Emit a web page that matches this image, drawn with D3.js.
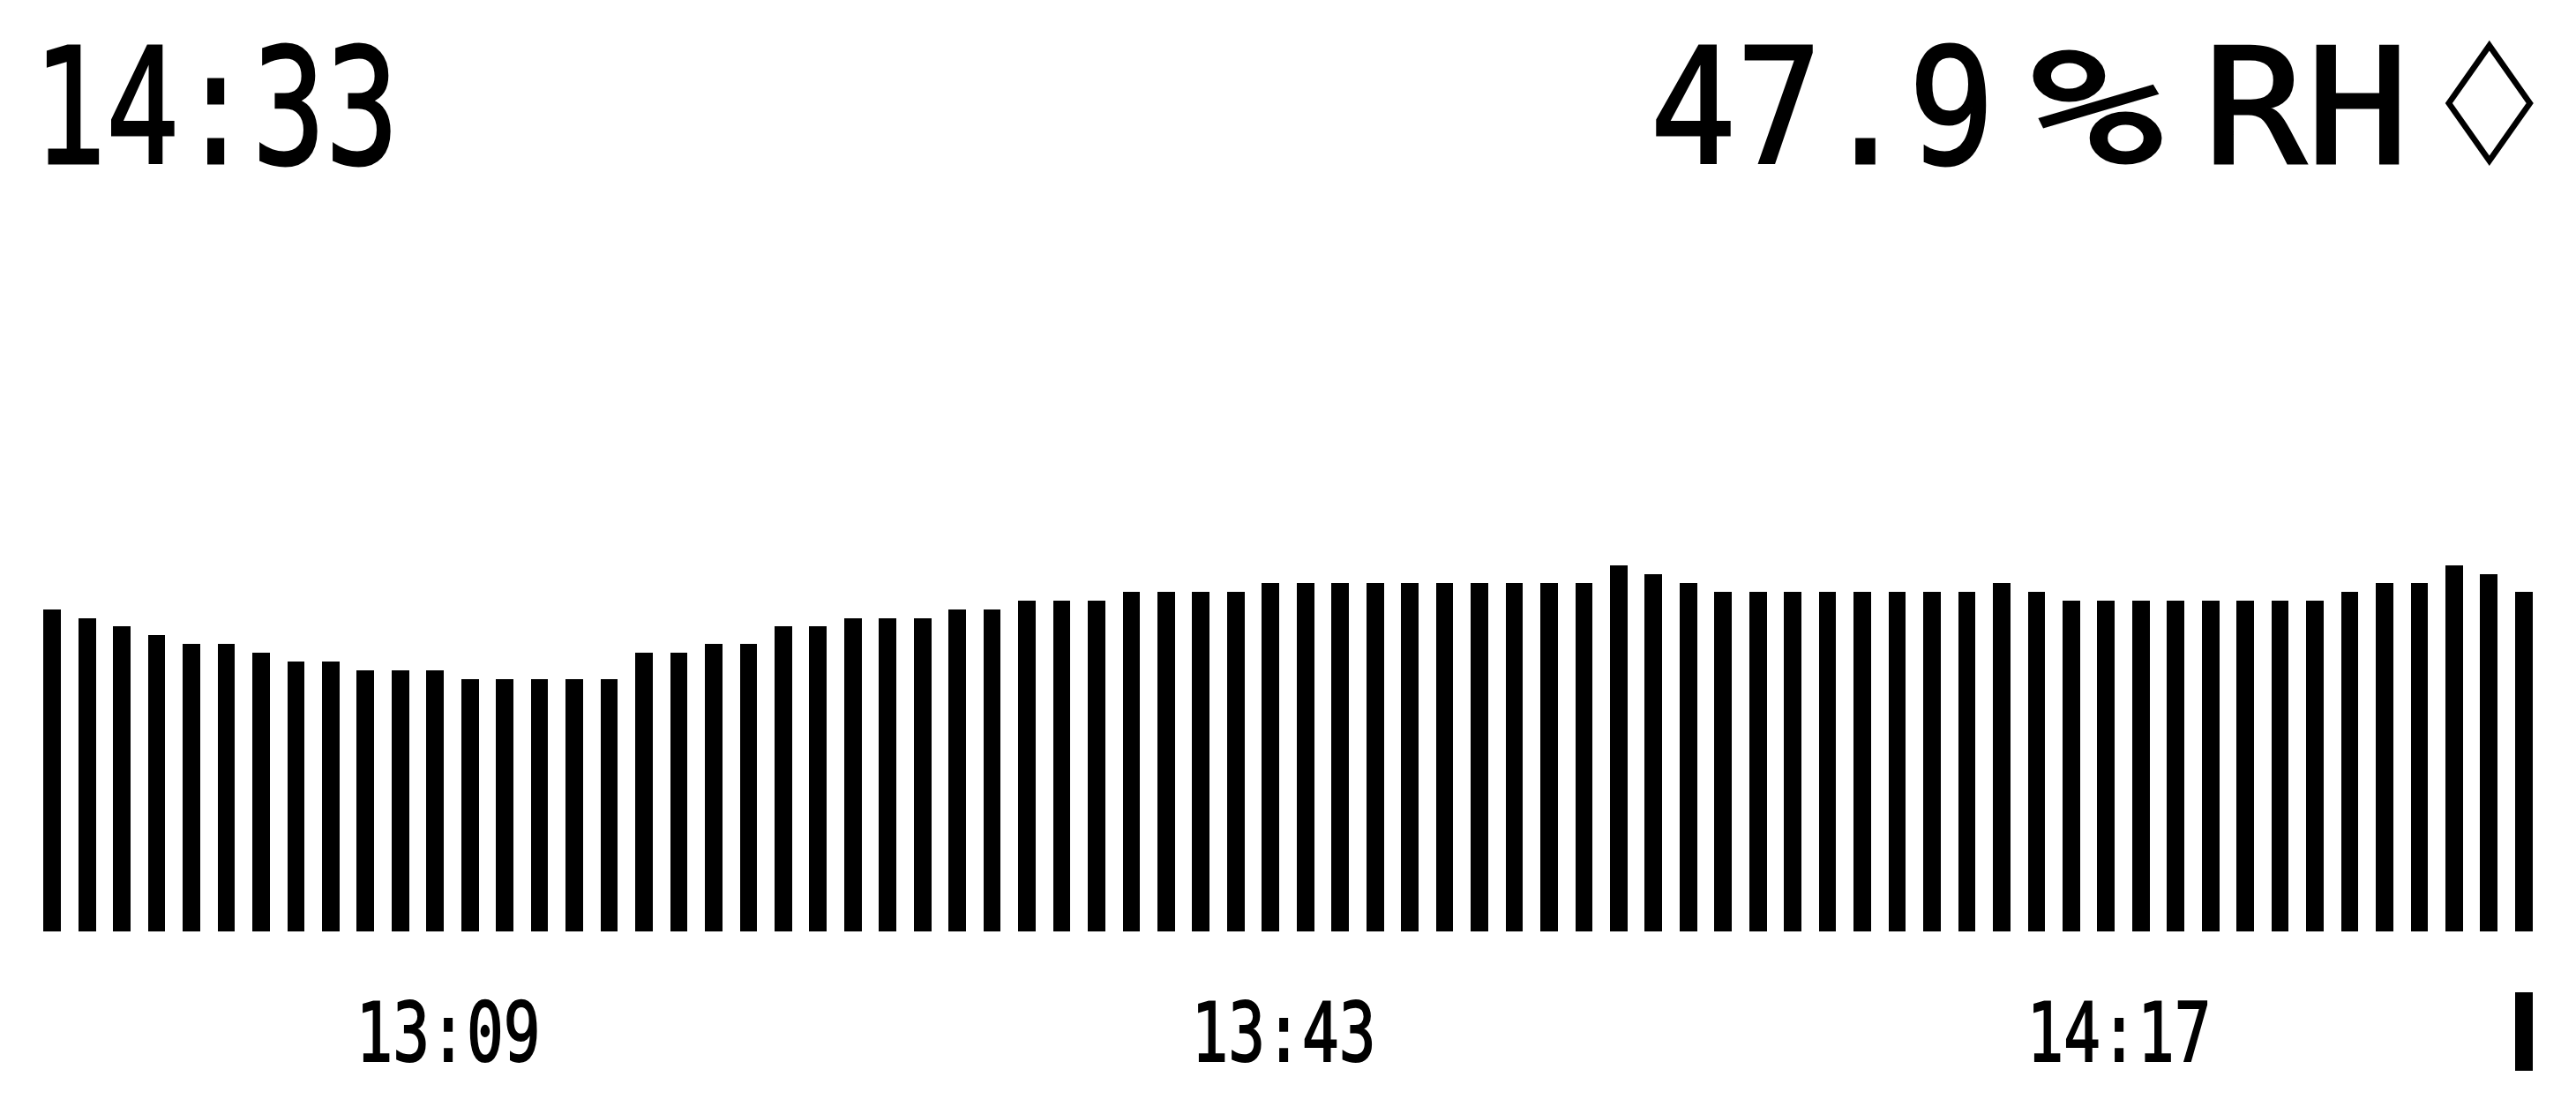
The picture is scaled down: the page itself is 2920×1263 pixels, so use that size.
<!DOCTYPE html>
<html>
<head>
<meta charset="utf-8">
<script src="https://cdn.jsdelivr.net/npm/d3@7"></script>
<style>
  html, body { margin: 0; padding: 0; background: #fff; }
  svg { display: block; }
</style>
</head>
<body>
<div id="screen"></div>
<script>
// e-paper style humidity screen, drawn on a 296x128 "pixel" grid then scaled up
const SCREEN_W = 296, SCREEN_H = 128;
const OUT_W = 2920, OUT_H = 1263;

const clockText = '14:33';
const humidityValue = '47.9';
const humidityUnit = ['%', 'RH'];
const trendGlyph = '◇';

// bar levels (px on the panel), oldest -> newest
const levels = [
  37, 36, 35, 34, 33, 33, 32, 31, 31, 30, 30, 30, 29, 29, 29, 29, 29, 32,
  32, 33, 33, 35, 35, 36, 36, 36, 37, 37, 38, 38, 38, 39, 39, 39, 39, 40,
  40, 40, 40, 40, 40, 40, 40, 40, 40, 42, 41, 40, 39, 39, 39, 39, 39, 39,
  39, 39, 40, 39, 38, 38, 38, 38, 38, 38, 38, 38, 39, 40, 40, 42, 41, 39
];
const tickBars = [11, 35, 59];
const tickLabels = ['13:09', '13:43', '14:17'];

const FONT = "'DejaVu Sans Mono', 'Liberation Mono', monospace";

// put a text at (x, y) and squeeze/stretch it horizontally to a given advance width
function fitText(g, str, o) {
  const t = g.append('text')
    .attr('font-family', o.font || FONT).attr('font-size', o.fs)
    .attr('text-anchor', o.anchor || 'start')
    .attr('fill', '#000').attr('stroke', '#000')
    .attr('stroke-width', o.sw).attr('stroke-linejoin', 'miter')
    .text(str);
  const L = t.node().getComputedTextLength();
  const sx = o.adv / L;
  if (o.pad) t.attr('letter-spacing', o.pad / sx);   // breathing room after the glyph
  t.attr('transform', `translate(${o.x},${o.y}) scale(${sx},1)`);
  return t;
}

function buildScreen() {
  const svg = d3.select('#screen').append('svg')
    .attr('width', OUT_W).attr('height', OUT_H)
    .attr('viewBox', `0 0 ${SCREEN_W} ${SCREEN_H}`)
    .attr('preserveAspectRatio', 'none');

  svg.append('rect').attr('width', SCREEN_W).attr('height', SCREEN_H).attr('fill', '#fff');

  // header: clock left, humidity right
  const head = svg.append('g');
  fitText(head, clockText, { x: 3.8, y: 18.7, fs: 18.5, adv: 42, sw: 0.3 });
  fitText(head, humidityValue, { x: 189.6, y: 18.7, fs: 18.5, adv: 39.6, sw: 0.3 });
  fitText(head, humidityUnit[0], { x: 233.4, y: 18.7, fs: 18.5, adv: 15.2, sw: 0.3 });
  fitText(head, humidityUnit[1], { x: 253.2, y: 18.7, fs: 18.5, adv: 23.6, sw: 0.3 });
  fitText(head, trendGlyph, { x: 292.6, y: 17.35, fs: 14.35, adv: 10.1, sw: 0.3, pad: 1.5,
    font: "'Noto Sans CJK JP', 'DejaVu Sans', sans-serif", anchor: 'end' });

  // bar history
  const x = d3.scaleBand().domain(d3.range(levels.length)).range([5, 291])
    .paddingInner(0.5).paddingOuter(0);
  const y = d3.scaleLinear().domain([0, 37]).range([107, 70]);

  svg.append('g').attr('shape-rendering', 'crispEdges')
    .selectAll('rect').data(levels).join('rect')
    .attr('x', (d, i) => x(i))
    .attr('y', d => y(d))
    .attr('width', x.bandwidth())
    .attr('height', d => y(0) - y(d))
    .attr('fill', '#000');

  // time ticks below
  const ticks = svg.append('g');
  tickBars.forEach((b, i) => {
    fitText(ticks, tickLabels[i], {
      x: x(b) + x.bandwidth() + 0.5, y: 121.9, fs: 9.3, adv: 21.2, sw: 0.2, anchor: 'middle'
    });
  });

  // "now" marker under the newest bar
  const last = levels.length - 1;
  svg.append('rect').attr('shape-rendering', 'crispEdges')
    .attr('x', x(last)).attr('y', 114)
    .attr('width', x.bandwidth()).attr('height', 9)
    .attr('fill', '#000');
}

document.addEventListener('DOMContentLoaded', buildScreen);
</script>
</body>
</html>
